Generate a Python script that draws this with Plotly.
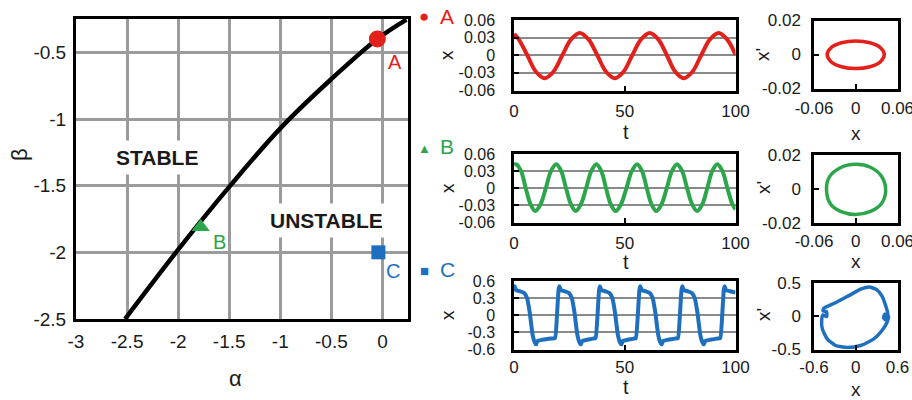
import plotly.graph_objects as go

W, H = 912, 400
FONT = "Liberation Sans, Arial, sans-serif"
RED, GREEN, BLUE = "#e3211c", "#2ca54b", "#1f6fbf"

# ---- stability boundary (alpha, beta) ----
boundary_alpha = [-2.52, -2.00, -1.49, -1.00, -0.50, -0.05, 0.235]
boundary_beta = [-2.50, -1.98, -1.50, -1.07, -0.70, -0.40, -0.255]

point_names = ["A", "B", "C"]
point_alpha = [-0.05, -1.78, -0.04]
point_beta = [-0.40, -1.81, -2.00]

main_xticks = [-3, -2.5, -2, -1.5, -1, -0.5, 0]
main_xtext = ["-3", "-2.5", "-2", "-1.5", "-1", "-0.5", "0"]
main_yticks = [-2.5, -2, -1.5, -1, -0.5]
main_ytext = ["-2.5", "-2", "-1.5", "-1", "-0.5"]

# ---- time series ----
A_t = [0, 2.0, 6.0, 9.9, 13.85, 17.8, 21.8, 25.75, 29.7, 33.65, 37.6, 41.55, 45.5, 49.45,
       53.4, 57.35, 61.3, 65.15, 69.0, 72.8, 76.6, 80.55, 84.5, 88.45, 92.4, 96.2, 100]
A_x = [0.036, 0.028, 0.0, -0.028, -0.039, -0.028, 0.0, 0.027, 0.038, 0.027, 0.0, -0.028, -0.039, -0.028,
       0.0, 0.027, 0.038, 0.027, 0.0, -0.028, -0.039, -0.028, 0.0, 0.027, 0.038, 0.027, 0.001]

B_t = [0, 1.05, 3.2, 5.3, 7.45, 9.6, 12.0, 14.35, 16.7, 19.1, 21.3, 23.5, 25.7, 27.9, 30.2,
       32.55, 34.9, 37.2, 39.4, 41.55, 43.7, 45.9, 48.3, 50.75, 53.2, 55.6, 57.8, 59.95, 62.1,
       64.3, 66.6, 68.95, 71.3, 73.6, 75.9, 78.15, 80.4, 82.7, 85.0, 87.25, 89.5, 91.8, 94.1,
       96.35, 98.5, 100]
B_x = [0.041, 0.042, 0.030, 0.0, -0.028, -0.040, -0.028, 0.0, 0.030, 0.042, 0.030, 0.0, -0.028, -0.040, -0.028,
       0.0, 0.030, 0.042, 0.030, 0.0, -0.028, -0.040, -0.028, 0.0, 0.030, 0.042, 0.030, 0.0, -0.028,
       -0.040, -0.028, 0.0, 0.030, 0.042, 0.030, 0.0, -0.028, -0.040, -0.028, 0.0, 0.030, 0.042, 0.030,
       0.0, -0.027, -0.037]

C_t = [0, 0.3, 0.9, 2.8, 4.6, 5.9, 7.1, 8.3, 9.3, 10.0, 10.6, 12.8, 15.8,
       18.5, 19.4, 20.1, 20.5, 21.1, 23.0, 24.8, 26.1, 27.3, 28.5, 29.5, 30.2, 30.8, 33.0, 35.5,
       36.8, 37.7, 38.4, 38.8, 39.4, 41.3, 43.1, 44.4, 45.6, 46.8, 47.8, 48.5, 49.1, 51.3, 54.0,
       55.0, 55.9, 56.6, 57.0, 57.6, 59.5, 61.3, 62.6, 63.8, 65.0, 66.0, 66.7, 67.3, 69.5, 72.5,
       74.0, 74.9, 75.6, 76.0, 76.6, 78.5, 80.3, 81.6, 82.8, 84.0, 85.0, 85.7, 86.3, 88.5, 91.5,
       93.1, 94.0, 94.7, 95.1, 95.7, 97.6, 100]
C_x = [0.48, 0.51, 0.44, 0.42, 0.39, 0.30, 0.05, -0.32, -0.47, -0.51, -0.45, -0.43, -0.41,
       -0.40, 0.0, 0.44, 0.51, 0.44, 0.42, 0.39, 0.30, 0.05, -0.32, -0.47, -0.51, -0.45, -0.43, -0.41,
       -0.40, 0.0, 0.44, 0.51, 0.44, 0.42, 0.39, 0.30, 0.05, -0.32, -0.47, -0.51, -0.45, -0.43, -0.41,
       -0.40, 0.0, 0.44, 0.51, 0.44, 0.42, 0.39, 0.30, 0.05, -0.32, -0.47, -0.51, -0.45, -0.43, -0.41,
       -0.40, 0.0, 0.44, 0.51, 0.44, 0.42, 0.39, 0.30, 0.05, -0.32, -0.47, -0.51, -0.45, -0.43, -0.41,
       -0.40, 0.0, 0.44, 0.51, 0.44, 0.42, 0.40]

t_ticks = [0, 50, 100]
t_text = ["0", "50", "100"]
xs_ticks = [-0.06, -0.03, 0, 0.03, 0.06]
xs_text = ["-0.06", "-0.03", "0", "0.03", "0.06"]
xl_ticks = [-0.6, -0.3, 0, 0.3, 0.6]
xl_text = ["-0.6", "-0.3", "0", "0.3", "0.6"]

# ---- phase portraits (x, x') ----
PA_x = [0.041, 0.0355, 0.0205, 0.0, -0.0205, -0.0355, -0.041, -0.0355, -0.0205, 0.0, 0.0205, 0.0355, 0.041]
PA_v = [0.0, 0.0040, 0.0069, 0.0080, 0.0069, 0.0040, 0.0, -0.0042, -0.0072, -0.0083, -0.0072, -0.0042, 0.0]

PB_x = [0.043, 0.037, 0.021, 0.0, -0.022, -0.038, -0.042, -0.036, -0.020, 0.0, 0.022, 0.037, 0.043]
PB_v = [-0.001, 0.0075, 0.0128, 0.0145, 0.0125, 0.007, -0.001, -0.009, -0.0135, -0.015, -0.013, -0.0085, -0.001]

PC_x = [-0.46, -0.30, -0.10, 0.08, 0.19, 0.30, 0.38, 0.43, 0.46, 0.44, 0.40, 0.42, 0.47, 0.45,
        0.38, 0.26, 0.07, -0.12, -0.29, -0.41, -0.48, -0.49, -0.47, -0.42, -0.42, -0.47, -0.46]
PC_v = [0.12, 0.20, 0.31, 0.41, 0.44, 0.40, 0.30, 0.16, 0.04, -0.06, -0.025, 0.03, 0.0, -0.09,
        -0.21, -0.34, -0.44, -0.47, -0.44, -0.34, -0.19, -0.065, 0.02, -0.005, 0.07, 0.08, 0.12]

small_ticks = [-0.02, 0, 0.02]
small_text = ["-0.02", "0", "0.02"]
half_ticks = [-0.5, 0, 0.5]
half_text = ["-0.5", "0", "0.5"]
six_ticks = [-0.06, 0, 0.06]
six_text = ["-0.06", "0", "0.06"]
sixl_ticks = [-0.6, 0, 0.6]
sixl_text = ["-0.6", "0", "0.6"]


def px_x(p):
    return p / W


def px_y(p):
    return 1 - p / H


def axis(domain, rng, tv, tt, anchor, grid=False, gridcolor="#8a8a8a", gridwidth=1.5,
         linewidth=2.5, ticks="inside", standoff=6, fs=17):
    return dict(domain=domain, range=rng, tickmode="array", tickvals=tv, ticktext=tt,
                anchor=anchor, showgrid=grid, gridcolor=gridcolor, gridwidth=gridwidth,
                zeroline=False, showline=True, linecolor="black", linewidth=linewidth,
                mirror=True, ticks=ticks, ticklen=5, tickwidth=1.5, tickcolor="black",
                ticklabelstandoff=standoff, ticklabeloverflow="allow", automargin=False,
                tickfont=dict(family=FONT, size=fs, color="#1a1a1a"), fixedrange=True)


fig = go.Figure()

# main diagram
fig.add_trace(go.Scatter(x=boundary_alpha, y=boundary_beta, mode="lines",
                         line=dict(color="black", width=4.5, shape="spline", smoothing=1.0),
                         xaxis="x", yaxis="y", hoverinfo="skip"))
marker_symbols = ["circle", "triangle-up", "square"]
marker_colors = [RED, GREEN, BLUE]
marker_sizes = [17, 16, 14]
for i in range(3):
    fig.add_trace(go.Scatter(x=[point_alpha[i]], y=[point_beta[i]], mode="markers",
                             marker=dict(symbol=marker_symbols[i], color=marker_colors[i],
                                         size=marker_sizes[i], line=dict(width=0)),
                             cliponaxis=False, xaxis="x", yaxis="y"))

# time series
fig.add_trace(go.Scatter(x=A_t, y=A_x, mode="lines", line=dict(color=RED, width=4, shape="spline", smoothing=1.0),
                         xaxis="x2", yaxis="y2"))
fig.add_trace(go.Scatter(x=B_t, y=B_x, mode="lines", line=dict(color=GREEN, width=4, shape="spline", smoothing=1.0),
                         xaxis="x3", yaxis="y3"))
fig.add_trace(go.Scatter(x=C_t, y=C_x, mode="lines", line=dict(color=BLUE, width=4, shape="spline", smoothing=0.4),
                         xaxis="x4", yaxis="y4"))

# phase portraits
fig.add_trace(go.Scatter(x=PA_x, y=PA_v, mode="lines", line=dict(color=RED, width=3.5, shape="spline"),
                         xaxis="x5", yaxis="y5"))
fig.add_trace(go.Scatter(x=PB_x, y=PB_v, mode="lines", line=dict(color=GREEN, width=3.5, shape="spline"),
                         xaxis="x6", yaxis="y6"))
fig.add_trace(go.Scatter(x=PC_x, y=PC_v, mode="lines", line=dict(color=BLUE, width=3.5, shape="spline", smoothing=0.6),
                         xaxis="x7", yaxis="y7"))

mid_x = [px_x(514), px_x(735.5)]
right_x = [px_x(814), px_x(897.5)]
eps = 1e-9

layout = dict(
    width=W, height=H, margin=dict(l=0, r=0, t=0, b=0, autoexpand=False),
    paper_bgcolor="white", plot_bgcolor="white", showlegend=False,
    xaxis=axis([px_x(76), px_x(408)], [-3, 0.25], main_xticks, main_xtext, "y", grid=True,
               gridcolor="#9b9b9b", gridwidth=2.5, linewidth=3, ticks="", standoff=3, fs=19),
    yaxis=axis([px_y(319), px_y(19)], [-2.5, -0.25], main_yticks, main_ytext, "x", grid=True,
               gridcolor="#9b9b9b", gridwidth=2.5, linewidth=3, ticks="", standoff=3, fs=19),
    xaxis2=axis(mid_x, [0, 100], t_ticks, t_text, "y2", standoff=3),
    yaxis2=axis([px_y(90.5), px_y(20)], [-0.06 - eps, 0.06 + eps], xs_ticks, xs_text, "x2", grid=True, standoff=13, fs=16),
    xaxis3=axis(mid_x, [0, 100], t_ticks, t_text, "y3", standoff=3),
    yaxis3=axis([px_y(222.5), px_y(154)], [-0.06 - eps, 0.06 + eps], xs_ticks, xs_text, "x3", grid=True, standoff=13, fs=16),
    xaxis4=axis(mid_x, [0, 100], t_ticks, t_text, "y4", standoff=0),
    yaxis4=axis([px_y(349.5), px_y(281)], [-0.6 - 1e-7, 0.6 + 1e-7], xl_ticks, xl_text, "x4", grid=True, standoff=13, fs=16),
    xaxis5=axis(right_x, [-0.06 - eps, 0.06 + eps], six_ticks, six_text, "y5", standoff=2),
    yaxis5=axis([px_y(88.5), px_y(20.5)], [-0.02 - eps, 0.02 + eps], small_ticks, small_text, "x5", standoff=7),
    xaxis6=axis(right_x, [-0.06 - eps, 0.06 + eps], six_ticks, six_text, "y6", standoff=1),
    yaxis6=axis([px_y(223), px_y(155)], [-0.02 - eps, 0.02 + eps], small_ticks, small_text, "x6", standoff=7),
    xaxis7=axis(right_x, [-0.6 - 1e-7, 0.6 + 1e-7], sixl_ticks, sixl_text, "y7", standoff=0),
    yaxis7=axis([px_y(349.5), px_y(283)], [-0.5 - 1e-7, 0.5 + 1e-7], half_ticks, half_text, "x7", standoff=7),
)

ann = []


def txt(text, x, y, size=18, color="#1a1a1a", angle=0, bold=False, xref="paper", yref="paper", bg=None, pad=1):
    a = dict(text=("<b>%s</b>" % text) if bold else text, x=x, y=y, xref=xref, yref=yref,
             showarrow=False, textangle=angle, xanchor="center", yanchor="middle",
             font=dict(family=FONT, size=size, color=color), borderpad=pad)
    if bg:
        a["bgcolor"] = bg
    ann.append(a)


# main diagram texts
txt("STABLE", -2.21, -1.285, size=21, bold=True, xref="x", yref="y", bg="white", pad=5)
txt("UNSTABLE", -0.55, -1.76, size=21, bold=True, xref="x", yref="y", bg="white", pad=5)
label_pos = [(0.118, -0.57), (-1.60, -1.92), (0.108, -2.14)]
for i in range(3):
    txt(point_names[i], label_pos[i][0], label_pos[i][1], size=20, color=marker_colors[i], xref="x", yref="y")
txt("α", px_x(235), px_y(378), size=22)
txt("β", px_x(20), px_y(155), size=22, angle=-90)

# side labels
side_y = [16, 147, 269]
side_sym = ["●", "▲", "■"]
side_sym_size = [17, 13, 15]
for i in range(3):
    txt(side_sym[i], px_x(424), px_y(side_y[i] + 1), size=side_sym_size[i], color=marker_colors[i])
    txt(point_names[i], px_x(447), px_y(side_y[i]), size=21, color=marker_colors[i])

# axis titles of the small panels
mid_centers = [55, 188, 315]
t_title_y = [132, 262, 387]
x_title_y = [133, 261, 389]
for i in range(3):
    txt("x", px_x(447), px_y(mid_centers[i]), size=19, angle=-90)
    txt("t", px_x(626), px_y(t_title_y[i]), size=20)
    txt("x'", px_x(763), px_y(mid_centers[i]), size=19, angle=-90)
    txt("x", px_x(856), px_y(x_title_y[i]), size=19)

layout["annotations"] = ann
fig.update_layout(**layout)
fig.write_html("out.html")
